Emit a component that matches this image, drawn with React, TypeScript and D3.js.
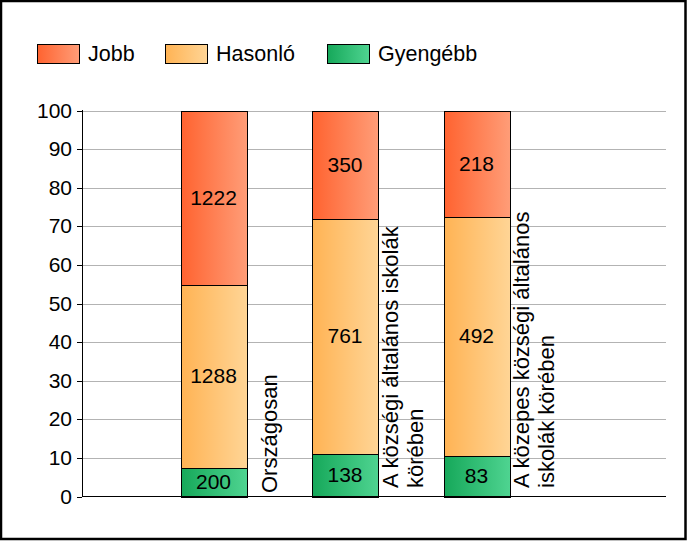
import * as d3 from "d3";

const categories = [
  ["Országosan"],
  ["A községi általános iskolák", "körében"],
  ["A közepes községi általános", "iskolák körében"],
];
const seriesNames = ["Gyengébb", "Hasonló", "Jobb"];
const gyengebb = [200, 138, 83];
const hasonlo = [1288, 761, 492];
const jobb = [1222, 350, 218];
const yTicks = [0, 10, 20, 30, 40, 50, 60, 70, 80, 90, 100];

const gradients: Record<string, [string, string]> = {
  Jobb: ["#ff6330", "#ff9d78"],
  "Hasonló": ["#ffb354", "#ffd596"],
  "Gyengébb": ["#16a85a", "#4fd491"],
};
const legendOrder = ["Jobb", "Hasonló", "Gyengébb"];

const W = 687;
const H = 541;
const FONT = "Arial, 'Liberation Sans', sans-serif";

export default function App() {
  const left = 82;
  const right = 666;
  const top = 110.5;
  const bottom = 496.5;
  const barW = 66;

  const y = d3.scaleLinear().domain([0, 100]).range([bottom, top]);
  const x = d3
    .scalePoint<number>()
    .domain(categories.map((_, i) => i))
    .range([213.5, 476.5]);

  const rows = categories.map((_, i) => {
    const vals = [gyengebb[i], hasonlo[i], jobb[i]];
    const total = d3.sum(vals);
    const r: Record<string, number> = {};
    seriesNames.forEach((s, k) => (r[s] = (vals[k] / total) * 100));
    return r;
  });
  const raw = [gyengebb, hasonlo, jobb];
  const stacked = d3.stack<Record<string, number>>().keys(seriesNames)(rows);

  const legendX = [37, 165, 327];

  return (
    <svg
      width={W}
      height={H}
      style={{ position: "absolute", left: 0, top: 0, background: "#fff" }}
      fontFamily={FONT}
    >
      <defs>
        {Object.entries(gradients).map(([k, [c0, c1]], i) => (
          <linearGradient key={k} id={`g${i}`} x1="0" x2="1" y1="0" y2="0">
            <stop offset="0" stopColor={c0} />
            <stop offset="1" stopColor={c1} />
          </linearGradient>
        ))}
      </defs>
      <rect x={0} y={0} width={W} height={H} fill="#fff" />

      {/* legend */}
      {legendOrder.map((name, i) => {
        const gi = Object.keys(gradients).indexOf(name);
        return (
          <g key={name} transform={`translate(${legendX[i]},44)`}>
            <rect x={0.5} y={0.5} width={42} height={19} fill={`url(#g${gi})`} stroke="#000" />
            <text x={51} y={17} fontSize={21.5} fill="#000">
              {name}
            </text>
          </g>
        );
      })}

      {/* grid */}
      {yTicks.map((t) => (
        <g key={t}>
          {t > 0 && (
            <line x1={left} x2={right} y1={Math.round(y(t)) + 0.5} y2={Math.round(y(t)) + 0.5} stroke="#b3b3b3" />
          )}
          <line x1={left - 5} x2={left} y1={Math.round(y(t)) + 0.5} y2={Math.round(y(t)) + 0.5} stroke="#000" />
          <text x={72} y={y(t) + 7} fontSize={21} textAnchor="end" fill="#000">
            {t}
          </text>
        </g>
      ))}

      {/* bars */}
      {stacked.map((layer, k) => {
        const gi = Object.keys(gradients).indexOf(layer.key);
        return (
          <g key={layer.key}>
            {layer.map((d, i) => {
              const x0 = Math.round(x(i)! - barW / 2) + 0.5;
              const y0 = Math.round(y(d[1])) + 0.5;
              const y1 = Math.round(y(d[0])) + 0.5;
              return (
                <g key={i}>
                  <rect x={x0} y={y0} width={barW} height={y1 - y0} fill={`url(#g${gi})`} stroke="#000" />
                  <text
                    x={x(i)}
                    y={(y0 + y1) / 2 + 6}
                    fontSize={21}
                    textAnchor="middle"
                    fill="#000"
                  >
                    {raw[k][i]}
                  </text>
                </g>
              );
            })}
          </g>
        );
      })}

      {/* category labels */}
      {categories.map((lines, i) => {
        const bx = x(i)! + barW / 2;
        const offs = lines.length === 1 ? [30] : [19.5, 44.5];
        return (
          <g key={i}>
            {lines.map((ln, j) => (
              <text
                key={j}
                transform={`translate(${bx + offs[j]},${lines.length === 1 ? 493 : 488}) rotate(-90)`}
                fontSize={22}
                fill="#000"
              >
                {ln}
              </text>
            ))}
          </g>
        );
      })}

      {/* axes */}
      <line x1={left + 0.5} x2={left + 0.5} y1={top - 0.5} y2={bottom} stroke="#000" />
      <line x1={left} x2={right} y1={bottom} y2={bottom} stroke="#000" />

      {/* frame */}
      <rect x={1} y={1} width={W - 2.5} height={H - 3} fill="none" stroke="#000" strokeWidth={2.5} />
    </svg>
  );
}
